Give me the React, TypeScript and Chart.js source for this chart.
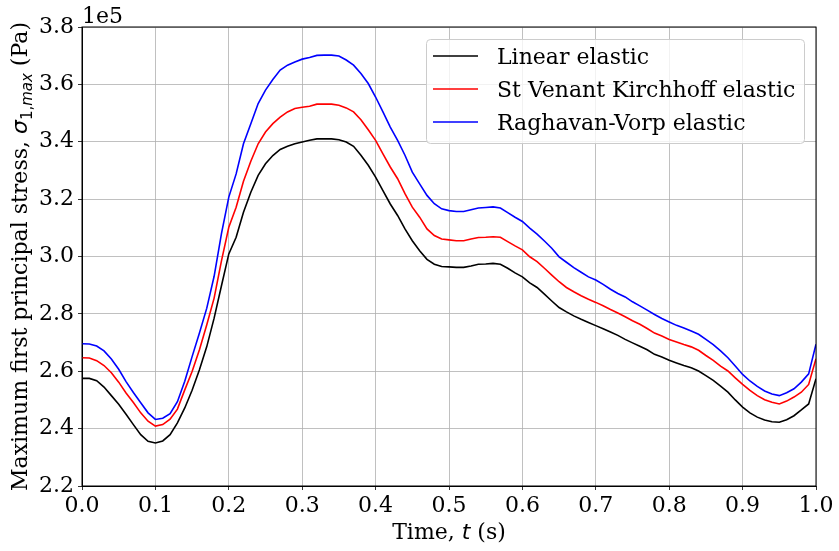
import { useEffect, useRef } from "react";
import Chart from "chart.js/auto";

const time = [
  0.0, 0.01, 0.02, 0.03, 0.04, 0.05, 0.06, 0.07, 0.08, 0.09,
  0.1, 0.11, 0.12, 0.13, 0.14, 0.15, 0.16, 0.17, 0.18, 0.19,
  0.2, 0.21, 0.22, 0.23, 0.24, 0.25, 0.26, 0.27, 0.28, 0.29,
  0.3, 0.31, 0.32, 0.33, 0.34, 0.35, 0.36, 0.37, 0.38, 0.39,
  0.4, 0.41, 0.42, 0.43, 0.44, 0.45, 0.46, 0.47, 0.48, 0.49,
  0.5, 0.51, 0.52, 0.53, 0.54, 0.55, 0.56, 0.57, 0.58, 0.59,
  0.6, 0.61, 0.62, 0.63, 0.64, 0.65, 0.66, 0.67, 0.68, 0.69,
  0.7, 0.71, 0.72, 0.73, 0.74, 0.75, 0.76, 0.77, 0.78, 0.79,
  0.8, 0.81, 0.82, 0.83, 0.84, 0.85, 0.86, 0.87, 0.88, 0.89,
  0.9, 0.91, 0.92, 0.93, 0.94, 0.95, 0.96, 0.97, 0.98, 0.99,
  1.0,
];

// stresses in units of 1e5 Pa
const linearElastic = [
  2.575, 2.575, 2.567, 2.545, 2.515, 2.485, 2.45, 2.414, 2.379, 2.356,
  2.35, 2.357, 2.379, 2.42, 2.472, 2.534, 2.605, 2.686, 2.785, 2.898,
  3.009, 3.067, 3.154, 3.224, 3.283, 3.323, 3.352, 3.373, 3.384, 3.393,
  3.399, 3.405, 3.41, 3.41, 3.41, 3.407, 3.399, 3.384, 3.353, 3.318,
  3.277, 3.23, 3.183, 3.143, 3.096, 3.055, 3.02, 2.99, 2.973, 2.965,
  2.964, 2.962, 2.962, 2.967, 2.973, 2.974, 2.976, 2.973, 2.959, 2.943,
  2.929, 2.908, 2.892, 2.869, 2.845, 2.822, 2.807, 2.793, 2.781, 2.77,
  2.759, 2.748, 2.737, 2.725, 2.711, 2.699, 2.687, 2.675, 2.659, 2.65,
  2.638, 2.629, 2.62, 2.612, 2.601, 2.585, 2.568, 2.548, 2.527, 2.5,
  2.475, 2.455, 2.44, 2.43, 2.424, 2.422, 2.431, 2.445, 2.465, 2.486,
  2.574,
];

const stVenantKirchhoff = [
  2.647, 2.646, 2.637, 2.62, 2.595, 2.562, 2.524, 2.491, 2.455, 2.426,
  2.409, 2.414, 2.433, 2.468, 2.535, 2.599, 2.675, 2.762, 2.855, 2.985,
  3.102, 3.172, 3.262, 3.332, 3.393, 3.434, 3.463, 3.486, 3.504, 3.516,
  3.52, 3.524, 3.531, 3.531, 3.531, 3.527, 3.518, 3.504, 3.477, 3.442,
  3.405, 3.358, 3.312, 3.271, 3.219, 3.172, 3.137, 3.096, 3.073, 3.061,
  3.058, 3.055, 3.055, 3.061, 3.066, 3.067, 3.069, 3.067, 3.052, 3.037,
  3.023, 2.999, 2.982, 2.959, 2.935, 2.912, 2.892, 2.877, 2.863, 2.851,
  2.84, 2.828, 2.815, 2.803, 2.79, 2.776, 2.764, 2.749, 2.733, 2.723,
  2.711, 2.702, 2.693, 2.685, 2.673, 2.655, 2.638, 2.618, 2.601, 2.577,
  2.554, 2.533, 2.515, 2.501, 2.492, 2.486, 2.496, 2.51, 2.527, 2.554,
  2.644,
];

const raghavanVorp = [
  2.696, 2.695, 2.688, 2.671, 2.643, 2.607, 2.564, 2.526, 2.49, 2.455,
  2.432, 2.436, 2.452, 2.494, 2.565, 2.651, 2.733, 2.82, 2.931, 3.08,
  3.207, 3.288, 3.393, 3.463, 3.533, 3.58, 3.617, 3.65, 3.667, 3.678,
  3.688, 3.694, 3.701, 3.702, 3.702, 3.699, 3.685, 3.667, 3.638, 3.603,
  3.556, 3.504, 3.451, 3.405, 3.353, 3.294, 3.253, 3.213, 3.184, 3.166,
  3.16, 3.157, 3.157, 3.163, 3.169, 3.171, 3.173, 3.169, 3.153, 3.137,
  3.122, 3.099, 3.078, 3.054, 3.029, 2.999, 2.98, 2.961, 2.945, 2.929,
  2.918, 2.903, 2.886, 2.871, 2.859, 2.842, 2.828, 2.813, 2.798, 2.784,
  2.772, 2.76, 2.751, 2.74, 2.729, 2.711, 2.693, 2.671, 2.647, 2.618,
  2.589, 2.566, 2.547, 2.531, 2.521, 2.515, 2.525, 2.539, 2.562, 2.591,
  2.694,
];

const seriesLabels = ["Linear elastic", "St Venant Kirchhoff elastic", "Raghavan-Vorp elastic"];
const seriesColors = ["#000000", "#ff0000", "#0000ff"];

const SERIF = "'DejaVu Serif'";
const SANS = "'DejaVu Sans'";

type Seg = { text: string; font: string; dy?: number };

function drawSegs(ctx: CanvasRenderingContext2D, segs: Seg[], cx: number, y: number) {
  let total = 0;
  for (const s of segs) {
    ctx.font = s.font;
    total += ctx.measureText(s.text).width;
  }
  let x = cx - total / 2;
  for (const s of segs) {
    ctx.font = s.font;
    ctx.fillText(s.text, x, y + (s.dy ?? 0));
    x += ctx.measureText(s.text).width;
  }
}

const decorations = {
  id: "decorations",
  afterDraw(chart: any) {
    const { ctx, chartArea: a } = chart;
    ctx.save();

    // full box round the plot
    ctx.strokeStyle = "#000";
    ctx.lineWidth = 1;
    ctx.strokeRect(a.left, a.top, a.right - a.left, a.bottom - a.top);

    ctx.fillStyle = "#000";
    ctx.textAlign = "left";
    ctx.textBaseline = "alphabetic";

    // offset label
    ctx.font = `22px ${SERIF}`;
    ctx.fillText("1e5", a.left, 23);

    // x title
    drawSegs(
      ctx,
      [
        { text: "Time, ", font: `22px ${SERIF}` },
        { text: "t", font: `italic 22px ${SANS}` },
        { text: " (s)", font: `22px ${SERIF}` },
      ],
      (a.left + a.right) / 2,
      539
    );

    // y title
    ctx.save();
    ctx.translate(27, (a.top + a.bottom) / 2);
    ctx.rotate(-Math.PI / 2);
    drawSegs(
      ctx,
      [
        { text: "Maximum first principal stress, ", font: `22px ${SERIF}` },
        { text: "σ", font: `italic 22px ${SANS}` },
        { text: "1,", font: `15px ${SANS}`, dy: 5 },
        { text: "max", font: `italic 15px ${SANS}`, dy: 5 },
        { text: " (Pa)", font: `22px ${SERIF}` },
      ],
      0,
      0
    );
    ctx.restore();

    // legend
    const bx = 426, by = 39, bw = 378, bh = 104;
    ctx.beginPath();
    ctx.roundRect(bx + 0.5, by + 0.5, bw, bh, 4);
    ctx.fillStyle = "rgba(255,255,255,0.8)";
    ctx.fill();
    ctx.strokeStyle = "#cccccc";
    ctx.lineWidth = 1;
    ctx.stroke();

    chart.data.datasets.forEach((ds: any, i: number) => {
      const ry = 56 + i * 33;
      ctx.beginPath();
      ctx.moveTo(433, ry);
      ctx.lineTo(478, ry);
      ctx.strokeStyle = ds.borderColor;
      ctx.lineWidth = 1.6;
      ctx.stroke();
      ctx.fillStyle = "#000";
      ctx.font = `22px ${SERIF}`;
      ctx.fillText(ds.label, 497, ry + 8);
    });

    ctx.restore();
  },
};

export default function App() {
  const canvasRef = useRef<HTMLCanvasElement>(null);

  useEffect(() => {
    document.body.style.margin = "0";
    const canvas = canvasRef.current;
    if (!canvas) return;

    const series = [linearElastic, stVenantKirchhoff, raghavanVorp];
    const tickFont = { family: SERIF, size: 22 };

    const chart = new Chart(canvas.getContext("2d")!, {
      type: "line",
      data: {
        datasets: series.map((vals, i) => ({
          label: seriesLabels[i],
          data: vals.map((v, j) => ({ x: time[j], y: v })),
          borderColor: seriesColors[i],
          backgroundColor: seriesColors[i],
          borderWidth: 1.6,
          pointRadius: 0,
          fill: false,
          tension: 0,
        })),
      },
      options: {
        animation: false,
        responsive: true,
        maintainAspectRatio: false,
        layout: { padding: { top: 27, right: 23, left: 0, bottom: 0 } },
        plugins: {
          legend: { display: false },
          tooltip: { enabled: false },
        },
        scales: {
          x: {
            type: "linear",
            min: 0,
            max: 1,
            afterFit: (s: any) => {
              s.height = 65;
            },
            ticks: {
              stepSize: 0.1,
              autoSkip: false,
              maxRotation: 0,
              color: "#000",
              padding: 3,
              font: tickFont,
              callback: (v: any) => Number(v).toFixed(1),
            },
            grid: { color: "#b0b0b0", lineWidth: 0.8, tickColor: "#000", tickLength: 4 },
            border: { color: "#000", width: 1 },
          },
          y: {
            min: 2.2,
            max: 3.8,
            afterFit: (s: any) => {
              s.width = 82;
            },
            ticks: {
              stepSize: 0.2,
              color: "#000",
              padding: 4,
              font: tickFont,
              callback: (v: any) => Number(v).toFixed(1),
            },
            grid: { color: "#b0b0b0", lineWidth: 0.8, tickColor: "#000", tickLength: 4 },
            border: { color: "#000", width: 1 },
          },
        },
      },
      plugins: [decorations],
    });

    return () => chart.destroy();
  }, []);

  return (
    <div style={{ position: "relative", width: 839, height: 551, background: "#fff" }}>
      <canvas ref={canvasRef} />
    </div>
  );
}
